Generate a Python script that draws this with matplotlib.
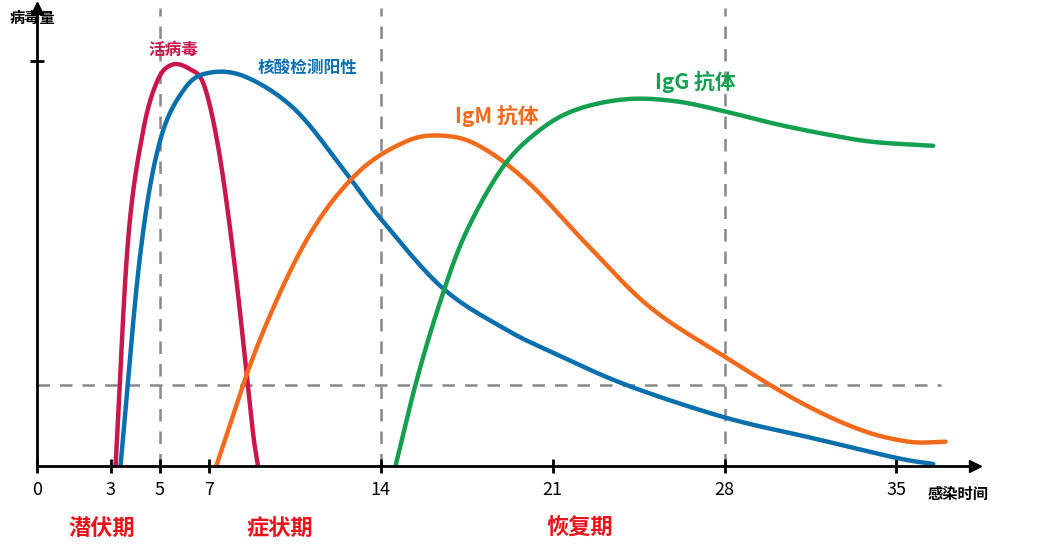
import numpy as np
import matplotlib
matplotlib.use("Agg")
import matplotlib.pyplot as plt
plt.rcParams['font.family'] = ['Noto Sans CJK SC', 'DejaVu Sans']

days_ticks = [0, 3, 5, 7, 14, 21, 28, 35]
red_x = [3.2, 3.7, 4.3, 4.9, 5.5, 6.2, 6.8, 7.4, 8.0, 8.5, 8.8, 9.0]
red_y = [0, 55, 82, 95, 99, 98, 94, 78, 52, 25, 8, 0]
blue_x = [3.4, 4.2, 5.0, 6.0, 7.0, 8.5, 10.5, 12.5, 14.0, 16.5, 19.0, 21.0, 24.0, 28.0, 31.5, 35.0, 36.5]
blue_y = [0, 52, 80, 93, 97, 96, 88, 73, 61, 44, 34, 28, 20, 12, 7, 2, 0.5]
orng_x = [7.3, 9.0, 11.0, 13.0, 15.0, 16.5, 18.0, 20.0, 22.5, 25.0, 28.0, 31.0, 33.5, 35.5, 37.0]
orng_y = [0, 30, 56, 72, 80, 81.5, 79, 70, 54, 39, 27, 16, 9, 6, 6]
grn_x = [14.6, 15.5, 16.5, 17.5, 19.0, 20.5, 22.0, 24.0, 26.0, 28.0, 30.0, 32.0, 34.0, 36.5]
grn_y = [0, 22, 42, 58, 74, 83, 88, 90.5, 90, 87.5, 84.5, 82, 80, 79]

def smooth(x, y, n=20):
    x = np.asarray(x, float); y = np.asarray(y, float)
    P = np.column_stack([x, y])
    P = np.vstack([2*P[0]-P[1], P, 2*P[-1]-P[-2]])
    out = []
    for i in range(1, len(P)-2):
        p0, p1, p2, p3 = P[i-1], P[i], P[i+1], P[i+2]
        t = np.linspace(0, 1, n, endpoint=False)[:, None]
        out.append(0.5*((2*p1) + (-p0+p2)*t + (2*p0-5*p1+4*p2-p3)*t**2 + (-p0+3*p1-3*p2+p3)*t**3))
    out.append(P[-2][None, :])
    o = np.vstack(out)
    return o[:, 0], o[:, 1]

fig = plt.figure(figsize=(10.64, 5.49), dpi=100)
ax = fig.add_axes([37/1064, (549-466)/549, (975-37)/1064, (466-8)/549])
ax.set_xlim(0, 38.2)
ax.set_ylim(0, 113)
for s in ['top', 'right']:
    ax.spines[s].set_visible(False)
for s in ['left', 'bottom']:
    ax.spines[s].set_linewidth(2)
ax.plot(1, 0, ">k", transform=ax.get_yaxis_transform(), clip_on=False, ms=8)
ax.plot(0, 1, "^k", transform=ax.get_xaxis_transform(), clip_on=False, ms=8)
ax.set_xticks(days_ticks)
ax.set_xticklabels([str(d) for d in days_ticks], fontsize=13)
ax.tick_params(axis='x', direction='inout', length=10, width=2, pad=6)
ax.set_yticks([100]); ax.set_yticklabels([''])
ax.tick_params(axis='y', direction='inout', length=10, width=2)

dash = dict(color='#888888', ls=(0, (5, 4)), lw=1.8, zorder=0)
for d in [5, 14, 28]:
    ax.axvline(d, ymin=0, ymax=1, **dash)
ax.plot([0, 36.8], [20, 20], **dash)

for (x, y, c) in [(red_x, red_y, '#c8174a'), (blue_x, blue_y, '#0a6fad'),
                  (orng_x, orng_y, '#f26b1d'), (grn_x, grn_y, '#14a050')]:
    sx, sy = smooth(x, y)
    ax.plot(sx, sy, color=c, lw=3.2, solid_capstyle='round')

fig.text(10/1064, 1-18/549, '病毒量', fontsize=11, fontweight='bold', va='center')
fig.text(928/1064, 1-494/549, '感染时间', fontsize=11, fontweight='bold', va='center')
fig.text(148/1064, 1-50/549, '活病毒', fontsize=12, color='#c8174a', fontweight='bold', va='center')
fig.text(258/1064, 1-68/549, '核酸检测阳性', fontsize=12, color='#0a6fad', fontweight='bold', va='center')
fig.text(455/1064, 1-116/549, 'IgM 抗体', fontsize=15, color='#f26b1d', fontweight='bold', va='center')
fig.text(655/1064, 1-82/549, 'IgG 抗体', fontsize=15, color='#14a050', fontweight='bold', va='center')
for t, xp in [('潜伏期', 68), ('症状期', 246), ('恢复期', 546)]:
    fig.text(xp/1064, 1-528/549, t, fontsize=16, color='#e8141c', fontweight='bold', va='center')

fig.savefig('out.png', dpi=100, facecolor='white')
